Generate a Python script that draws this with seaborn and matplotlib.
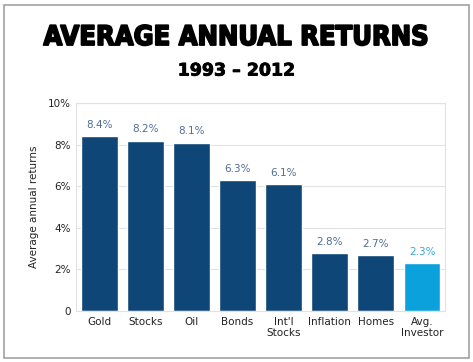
import matplotlib
matplotlib.use("Agg")
import matplotlib.pyplot as plt
import matplotlib.patheffects as pe
import seaborn as sns
import pandas as pd
from matplotlib.patches import Rectangle
from matplotlib.ticker import FuncFormatter

assets = ["Gold", "Stocks", "Oil", "Bonds", "Int'l\nStocks", "Inflation", "Homes", "Avg.\nInvestor"]
returns = [8.4, 8.2, 8.1, 6.3, 6.1, 2.8, 2.7, 2.3]
labels = ["8.4%", "8.2%", "8.1%", "6.3%", "6.1%", "2.8%", "2.7%", "2.3%"]

dark = "#0e4677"
light = "#0aa1dd"
colors = [dark] * 7 + [light]
label_colors = ["#4d6f93"] * 7 + ["#3aa6d8"]

df = pd.DataFrame({"asset": assets, "ret": returns})

sns.set_theme(style="white")
plt.rcParams["font.family"] = ["DejaVu Sans"]

fig = plt.figure(figsize=(4.73, 3.62), dpi=100)
ax = fig.add_axes([0.161, 0.141, 0.780, 0.574])

sns.barplot(data=df, x="asset", y="ret", hue="asset", palette=colors,
            legend=False, width=0.8, saturation=1, ax=ax)

ax.set_ylim(0, 10)
ax.set_yticks([0, 2, 4, 6, 8, 10])
ax.yaxis.set_major_formatter(FuncFormatter(lambda v, p: "0" if v == 0 else f"{v:.0f}%"))
ax.grid(axis="y", color="#e2e2e2", linewidth=0.8)
ax.set_axisbelow(True)
for s in ax.spines.values():
    s.set_color("#e2e2e2")
    s.set_linewidth(0.8)
ax.tick_params(axis="both", length=0, labelsize=7.5, colors="#222222", pad=4)
ax.set_xlabel("")
ax.set_ylabel("Average annual returns", fontsize=7.5, color="#222222", labelpad=6)

for i, (v, t) in enumerate(zip(returns, labels)):
    ax.text(i, v + 0.3, t, ha="center", va="bottom", fontsize=7.5, color=label_colors[i])

heavy = [pe.Stroke(linewidth=1.3, foreground="black"), pe.Normal()]
fig.text(0.5, 0.895, "AVERAGE ANNUAL RETURNS", ha="center", va="center",
         fontsize=19.5, fontweight="heavy", fontstretch="condensed", color="black",
         path_effects=heavy)
fig.text(0.5, 0.805, "1993 \u2013 2012", ha="center", va="center",
         fontsize=12.5, fontweight="bold", color="black",
         path_effects=[pe.Stroke(linewidth=0.6, foreground="black"), pe.Normal()])

border = Rectangle((0.009, 0.012), 0.982, 0.975, transform=fig.transFigure,
                   fill=False, edgecolor="#9a9a9a", linewidth=1.1)
fig.patches.append(border)

fig.savefig("out.png", dpi=100)
